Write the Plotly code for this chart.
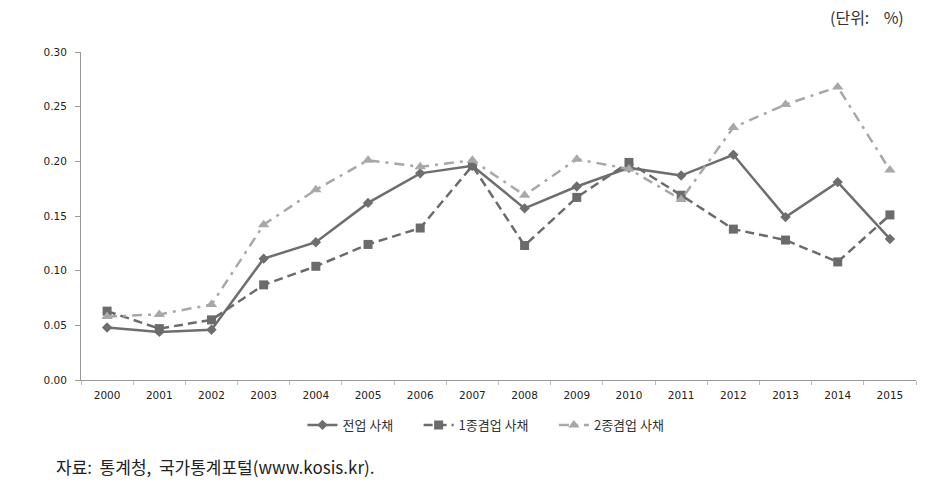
import plotly.graph_objects as go

years = [str(y) for y in range(2000, 2016)]

full_bond = [0.048, 0.044, 0.046, 0.111, 0.126, 0.162, 0.189, 0.196,
             0.157, 0.177, 0.194, 0.187, 0.206, 0.149, 0.181, 0.129]
type1_bond = [0.063, 0.047, 0.055, 0.087, 0.104, 0.124, 0.139, 0.196,
              0.123, 0.167, 0.199, 0.169, 0.138, 0.128, 0.108, 0.151]
type2_bond = [0.058, 0.060, 0.069, 0.142, 0.174, 0.201, 0.195, 0.201,
              0.169, 0.202, 0.193, 0.165, 0.231, 0.252, 0.268, 0.192]

y_ticks = [0.0, 0.05, 0.10, 0.15, 0.20, 0.25, 0.30]

KR_FONT = "Noto Sans CJK KR"
TICK_FONT = "DejaVu Sans"

fig = go.Figure()
fig.add_trace(go.Scatter(
    x=years, y=full_bond, name="전업 사채       ", mode="lines+markers",
    line=dict(color="#6e6e6e", width=2.5),
    marker=dict(symbol="diamond", size=8, color="#6e6e6e"),
))
fig.add_trace(go.Scatter(
    x=years, y=type1_bond, name="1종겸업 사채       ", mode="lines+markers",
    line=dict(color="#6b6b6b", width=2.5, dash="9px,5px"),
    marker=dict(symbol="square", size=9, color="#6b6b6b"),
))
fig.add_trace(go.Scatter(
    x=years, y=type2_bond, name="2종겸업 사채", mode="lines+markers",
    line=dict(color="#a8a8a8", width=2.5, dash="10px,6px,3px,6px"),
    marker=dict(symbol="triangle-up", size=10, color="#a8a8a8"),
))

fig.update_layout(
    width=932, height=493,
    margin=dict(l=81, r=16, t=52, b=113),
    paper_bgcolor="white", plot_bgcolor="white",
    font=dict(family=KR_FONT, color="#333333"),
    showlegend=True,
    legend=dict(orientation="h", x=0.485, xanchor="center", y=-0.137, yanchor="middle",
                font=dict(family=KR_FONT, size=13, color="#333333"),
                tracegroupgap=0),
    xaxis=dict(type="category", range=[-0.5, 15.5], showgrid=False, showline=True,
               linecolor="#999999", linewidth=1, ticks="outside", tickson="boundaries",
               ticklen=4, tickcolor="#bbbbbb", ticklabelstandoff=5, automargin=False,
               tickfont=dict(family=TICK_FONT, size=10.5, color="#222222")),
    yaxis=dict(range=[0, 0.30], tickvals=y_ticks, tickformat=".2f", showgrid=False,
               showline=True, linecolor="#999999", linewidth=1, ticks="outside",
               ticklen=5, tickcolor="#999999", zeroline=False, ticklabelstandoff=6,
               automargin=False,
               tickfont=dict(family=TICK_FONT, size=10.5, color="#222222")),
    annotations=[
        dict(text="(단위:    %)", xref="paper", yref="paper", x=1.0, xshift=-10, y=1.0,
             yshift=35, xanchor="right", yanchor="middle", showarrow=False,
             font=dict(family=KR_FONT, size=16, color="#333333")),
        dict(text="자료:  통계청,  국가통계포털(www.kosis.kr).", xref="paper", yref="paper",
             x=0, xshift=-27, y=0, yshift=-86, xanchor="left", yanchor="middle",
             showarrow=False, font=dict(family=KR_FONT, size=17, color="#222222")),
    ],
)

fig.write_html("out.html", config={"displayModeBar": False},
               post_script="document.body.style.margin='0';")
